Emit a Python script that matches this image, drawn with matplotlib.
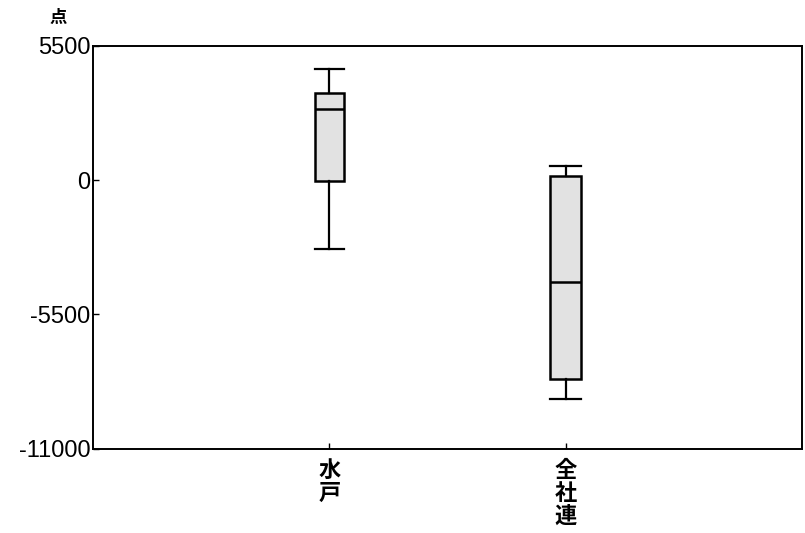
import matplotlib
matplotlib.use("Agg")
import matplotlib.pyplot as plt

plt.rcParams['font.family'] = ['Liberation Sans', 'Noto Sans CJK JP', 'DejaVu Sans']
plt.rcParams['axes.unicode_minus'] = False

# box statistics
groups = ['水\n戸', '全\n社\n連']
whislo = [-2830, -8990]
q1 = [-20, -8170]
med = [2930, -4180]
q3 = [3560, 180]
whishi = [4550, 600]

yticks = [5500, 0, -5500, -11000]

stats = []
for i in range(len(groups)):
    stats.append(dict(whislo=whislo[i], q1=q1[i], med=med[i], q3=q3[i],
                      whishi=whishi[i], fliers=[]))

fig = plt.figure(figsize=(8.05, 5.33), dpi=100)
ax = fig.add_axes([0.1155, 0.1585, 0.8808, 0.7552])

ax.bxp(stats, positions=[1, 2], widths=[0.12, 0.13], patch_artist=True,
       showfliers=False,
       boxprops=dict(facecolor='#e2e2e2', edgecolor='black', linewidth=1.8),
       medianprops=dict(color='black', linewidth=1.8),
       whiskerprops=dict(color='black', linewidth=1.6),
       capprops=dict(color='black', linewidth=1.6),
       capwidths=[0.12, 0.13])

ax.set_xlim(0, 3)
ax.set_ylim(-11000, 5500)
ax.set_yticks(yticks)
ax.set_yticklabels([str(v) for v in yticks], fontsize=17)
ax.set_xticks([1, 2])
ax.set_xticklabels(groups, fontsize=16, linespacing=1.12, fontweight='bold')
ax.tick_params(axis='both', direction='in', length=4, width=1)
ax.tick_params(axis='x', pad=9)
ax.tick_params(axis='y', pad=2)
for s in ax.spines.values():
    s.set_linewidth(1.4)

fig.text(58 / 805, 1 - 18 / 533, '点', fontsize=12.5, ha='center', va='center',
         fontweight='bold')

fig.savefig('out.png', dpi=100)
